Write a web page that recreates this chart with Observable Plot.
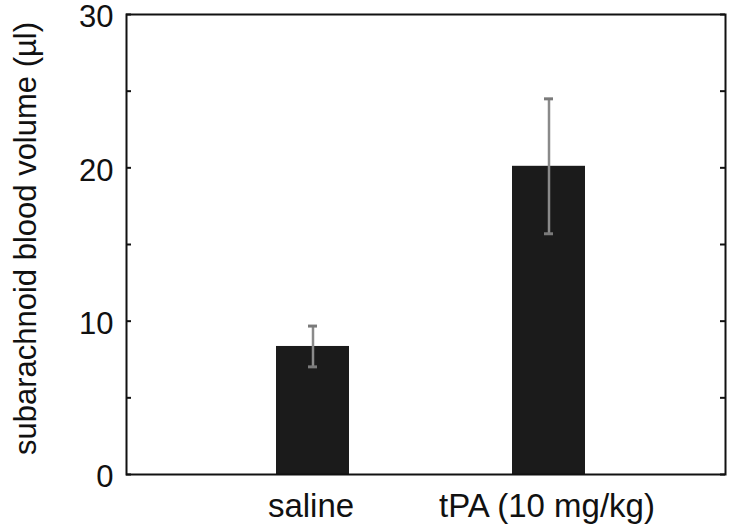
<!DOCTYPE html>
<html>
<head>
<meta charset="utf-8">
<script src="https://cdn.jsdelivr.net/npm/d3@7"></script>
<script src="https://cdn.jsdelivr.net/npm/@observablehq/plot@0.6"></script>
<style>
  html, body { margin: 0; padding: 0; background: #fff; }
  #chart svg { display: block; }
</style>
</head>
<body>
<div id="chart"></div>
<script>
const groups = ["saline", "tPA (10 mg/kg)"];
const means = [8.35, 20.1];
const errors = [1.33, 4.4];
const yTickLabels = [0, 10, 20, 30];
const yMinorTicks = [0, 5, 10, 15, 20, 25, 30];
const yLabel = "subarachnoid blood volume (µl)";

const data = groups.map((g, i) => ({
  group: g, mean: means[i], lo: means[i] - errors[i], hi: means[i] + errors[i]
}));

const chart = Plot.plot({
  width: 734,
  height: 532,
  marginLeft: 126,
  marginRight: 9,
  marginTop: 14,
  marginBottom: 58,
  style: { fontFamily: "'Liberation Sans', Arial, sans-serif", fontSize: "31px", color: "#111", background: "#fff" },
  x: { domain: groups, type: "band", paddingInner: 0.69, paddingOuter: 0.61, align: 0.516, label: null },
  y: { domain: [0, 30], label: null },
  marks: [
    Plot.barY(data, { x: "group", y: "mean", fill: "#1b1b1b" }),
    Plot.ruleX(data, { x: "group", y1: "lo", y2: "hi", stroke: "#8a8a8a", strokeWidth: 2.5 }),
    Plot.tickY(data, { x: "group", y: "hi", stroke: "#7a7a7a", strokeWidth: 3, insetLeft: 32, insetRight: 32 }),
    Plot.tickY(data, { x: "group", y: "lo", stroke: "#7a7a7a", strokeWidth: 3, insetLeft: 32, insetRight: 32 }),
    Plot.tickY(yMinorTicks, { y: d => d, stroke: "#111", strokeWidth: 2, insetRight: 594 }),
    Plot.tickY(yMinorTicks, { y: d => d, stroke: "#111", strokeWidth: 2, insetLeft: 594 }),
    Plot.frame({ stroke: "#111", strokeWidth: 2 }),
    Plot.axisY({ ticks: yTickLabels, tickSize: 0, tickPadding: 13, fontSize: 31, dy: 3, label: null }),
    Plot.axisX({ tickSize: 0, tickPadding: 19, fontSize: 33, dx: -2, label: null }),
    Plot.text([yLabel], { text: d => d, frameAnchor: "left", dx: -100, dy: -6, rotate: -90, textAnchor: "middle", lineAnchor: "middle", fontSize: 31, fill: "#111" })
  ]
});
document.getElementById("chart").appendChild(chart);
</script>
</body>
</html>
